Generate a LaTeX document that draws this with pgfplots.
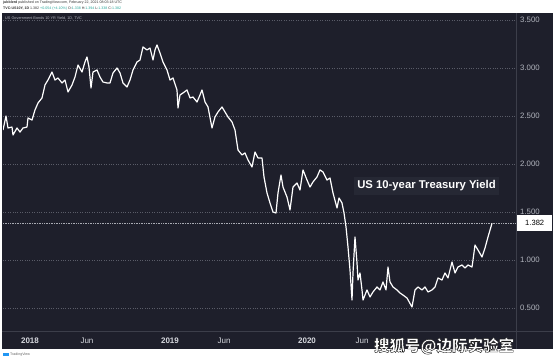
\documentclass[border=0pt]{standalone}
\usepackage{fontspec}
\setmainfont{Liberation Sans}
\newfontfamily\cjk{Noto Sans CJK SC}
\usepackage{pgfplots}
\pgfplotsset{compat=1.18}
\usepackage{pgfplotstable}
\definecolor{bg}{HTML}{1E1F2B}
\definecolor{gridc}{HTML}{5A5C68}
\definecolor{sepc}{HTML}{3C3E4A}
\definecolor{tickc}{HTML}{B2B5BE}
\definecolor{xtc}{HTML}{D6D8DE}
\definecolor{lastc}{HTML}{A9ABB3}
\definecolor{boxbg}{HTML}{262834}
\definecolor{upc}{HTML}{26A69A}
\definecolor{tvblue}{HTML}{2196F3}
\pgfplotstableread{
x v
3 2.354
6 2.500
8 2.375
12 2.385
13 2.302
17 2.375
20 2.333
23 2.375
27 2.385
28 2.479
32 2.458
35 2.563
38 2.635
42 2.688
45 2.823
48 2.875
52 2.958
55 2.875
58 2.896
62 2.844
65 2.875
68 2.750
72 2.823
75 2.906
78 3.031
82 2.958
85 3.063
87 3.115
89 3.010
91 2.792
93 2.958
97 2.979
100 2.906
103 2.854
107 2.844
110 2.844
113 2.948
117 3.000
120 2.948
123 2.844
127 2.802
130 2.875
133 2.979
137 3.063
140 3.083
143 3.219
147 3.188
150 3.208
153 3.083
155 3.188
157 3.240
160 3.156
163 3.063
167 2.979
170 2.875
173 2.896
177 2.771
178 2.583
180 2.719
183 2.740
187 2.771
190 2.688
193 2.698
197 2.646
200 2.719
202 2.771
205 2.646
208 2.594
212 2.375
215 2.490
218 2.542
222 2.594
225 2.542
228 2.490
232 2.438
235 2.354
238 2.146
242 2.094
245 2.115
248 2.042
252 1.969
255 2.125
258 2.063
262 2.063
264 1.865
267 1.698
270 1.594
273 1.500
276 1.490
278 1.698
281 1.885
283 1.760
287 1.656
290 1.521
293 1.760
297 1.802
300 1.729
303 1.938
307 1.833
310 1.760
313 1.813
317 1.865
320 1.938
323 1.917
327 1.833
330 1.854
333 1.698
337 1.542
339 1.646
342 1.594
344 1.490
346 1.344
348 1.135
350 0.896
352 0.583
353 0.865
355 1.240
357 0.969
358 0.792
360 0.865
362 0.688
363 0.583
367 0.688
370 0.615
373 0.667
377 0.719
380 0.688
383 0.771
386 0.688
388 0.927
390 0.771
393 0.719
397 0.688
400 0.656
403 0.635
407 0.604
412 0.510
415 0.688
418 0.719
422 0.688
425 0.719
428 0.667
432 0.688
435 0.719
438 0.813
442 0.792
445 0.865
448 0.813
452 0.979
455 0.865
458 0.927
462 0.948
465 0.917
468 0.948
472 0.927
473 1.000
475 1.156
478 1.104
482 1.031
485 1.125
488 1.240
492 1.382
}\yielddata
\begin{document}
\begin{tikzpicture}[x=1pt,y=1pt]
\fill[white] (0,0) rectangle (554,361);
\fill[bg] (2,12) rectangle (553,348);
% header
\node[anchor=west,inner sep=0,font=\fontsize{3.6}{4}\selectfont,text=black!80] at (3,358) {\textbf{jubblerd} published on TradingView.com, February 22, 2021 08:03:18 UTC};
\node[anchor=west,inner sep=0,font=\fontsize{3.6}{4}\selectfont,text=black!80] at (3,352.5) {\textbf{TVC:US10Y, 1D} 1.382 \textcolor{upc}{+0.054 (+4.10\%)} O:\textcolor{upc}{1.338} H:\textcolor{upc}{1.394} L:\textcolor{upc}{1.338} C:\textcolor{upc}{1.382}};
\begin{axis}[
  at={(3pt,30pt)}, anchor=south west, scale only axis,
  width=513pt, height=317pt,
  xmin=3, xmax=516, ymin=0.2604, ymax=3.5625,
  axis line style={draw=none},
  xtick={30,87,170,224,307,362},
  xticklabels={\textbf{2018},Jun,\textbf{2019},Jun,\textbf{2020},Jun},
  ytick={0.5,1,1.5,2,2.5,3,3.5},
  yticklabel pos=right,
  ymajorgrids, grid style={gridc, dotted, line width=0.6pt},
  major tick length=0pt,
  /pgf/number format/.cd, fixed, fixed zerofill, precision=3, assume math mode=true,
  /pgfplots/.cd,
  yticklabel style={font=\fontsize{7.8}{8}\selectfont, text=tickc, anchor=west, xshift=4pt, inner sep=0pt},
  xticklabel style={font=\fontsize{8}{9}\selectfont, text=xtc, anchor=center, yshift=-9.5pt, inner sep=0pt},
]
\addplot[lastc, densely dotted, line width=0.7pt] coordinates {(3,1.382) (516,1.382)};
\addplot[white, line width=1.2pt, line join=round] table[x=x,y=v]{\yielddata};
\node[fill=boxbg, text=white, font=\fontsize{11.3}{13}\selectfont\bfseries, inner xsep=3pt, inner ysep=4pt] at (axis cs:426.5,1.771) {US 10-year Treasury Yield};
\coordinate (lastv) at (axis cs:516,1.382);
\end{axis}
% separators
\draw[sepc, line width=0.8pt] (2,30) -- (553,30);
\draw[sepc, line width=0.8pt] (516,12) -- (516,348);
\node[anchor=west, inner sep=0, font=\fontsize{3.8}{4}\selectfont, text=tickc] at (5,343) {US Government Bonds 10 YR Yield, 1D, TVC};
\node[anchor=west, fill=white, text=black, font=\fontsize{7.6}{8}\selectfont, minimum width=35pt, minimum height=16pt, inner sep=0pt] at ([xshift=1pt]lastv) {1.382};
% watermark: white text with a thin dark outline (fill + stroke rendering)
\node[text=white, font=\cjk\bfseries\fontsize{15.5}{16}\selectfont, inner sep=0] at (444,15) {\special{pdf:literal direct 2 Tr 0.1 0.1 0.1 RG 0.4 w}搜狐号@边际实验室\special{pdf:literal direct 0 Tr}};
% TradingView logo
\fill[tvblue] (3,5) rectangle (9,8);
\node[anchor=west, inner sep=0, font=\fontsize{3.6}{4}\selectfont, text=black!60] at (10,6.5) {TradingView};
\end{tikzpicture}
\end{document}
